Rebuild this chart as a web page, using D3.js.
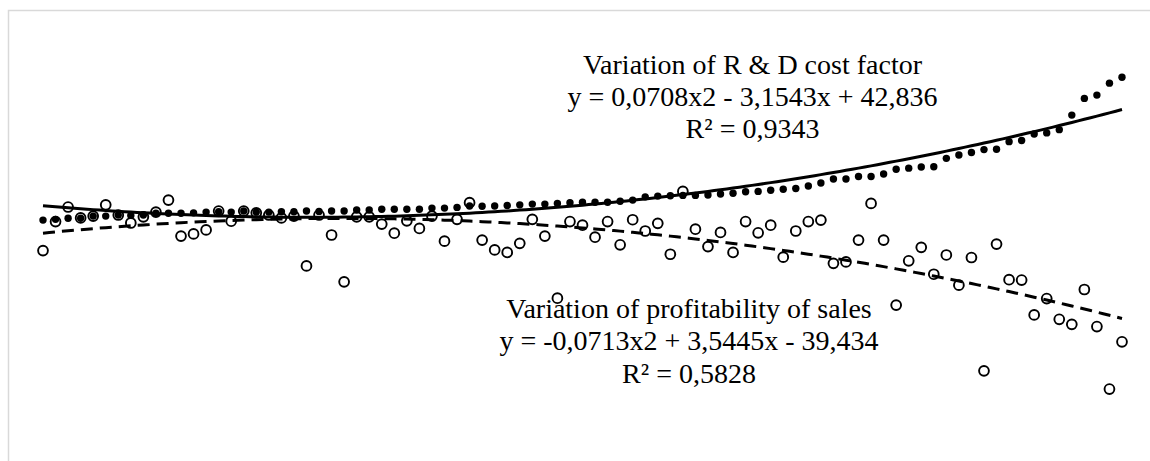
<!DOCTYPE html>
<html lang="en">

<head>
  <meta charset="UTF-8" />
  <title>R & D cost factor vs profitability of sales</title>
  <script src="https://d3js.org/d3.v7.min.js"></script>
  <style>
    body {
      margin: 0;
      background-color: white;
    }

    svg {
      display: block;
    }

    .label {
      font-family: "Liberation Serif", "Times New Roman", serif;
      font-size: 28px;
      fill: #000;
    }
  </style>
</head>

<body>
  <script>
    // observation number 1..87
    const periods = d3.range(1, 88);

    // variation of R & D cost factor (filled dots)
    const rdCost = [
      0, 2, 5, 5, 11, 11, 14, 13, 14, 19,
      19, 19, 20, 22, 23, 22, 25, 22, 22, 23,
      23, 25, 24, 25, 25, 28, 28, 30, 30, 30,
      30, 33, 33, 35, 39, 38, 39, 40, 42, 44,
      44, 46, 48, 49, 49, 49, 52, 55, 64, 66,
      67, 68, 68, 69, 72, 74, 78, 79, 82, 85,
      87, 94, 102, 113, 113, 120, 120, 127, 140, 143,
      146, 147, 170, 179, 186, 194, 195, 216, 219, 237,
      240, 249, 289, 335, 344, 377, 393
    ];

    // variation of profitability of sales (open circles)
    const profitability = [
      -84, -4, 36, 6, 11, 42, 14, -8, 9, 22,
      55, -44, -38, -27, 25, -3, 25, 20, 14, 6,
      11, -126, 14, -41, -170, 9, 9, -11, -36, -2,
      -23, 11, -58, 2, 48, -55, -82, -89, -64, 2,
      -44, -215, -4, -14, -47, -4, -68, 1, -30, -9,
      -94, 79, -25, -73, -34, -89, -4, -35, -14, -102,
      -30, -4, 0, -119, -115, -55, 46, -55, -234, -112,
      -75, -149, -96, -179, -103, -415, -66, -164, -165, -261,
      -216, -273, -287, -191, -293, -465, -335
    ];

    // polynomial trend line coefficients [a, b, c] for a*x^2 + b*x + c
    const rdTrend = [0.0708, -3.1543, 42.836];
    const profitTrend = [-0.0713, 3.5445, -39.434];

    const rdLabel = ['Variation of R & D cost factor', 'y = 0,0708x2 - 3,1543x + 42,836', 'R² = 0,9343'];
    const profitLabel = ['Variation of profitability of sales', 'y = -0,0713x2 + 3,5445x - 39,434', 'R² = 0,5828'];

    const w = 1150;
    const h = 461;

    const svg = d3.select('body')
      .append('svg')
      .attr('width', w)
      .attr('height', h);

    // chart frame (only top and left edges fall inside the picture)
    svg.append('rect')
      .attr('x', 8.5)
      .attr('y', 10.5)
      .attr('width', w + 20)
      .attr('height', h + 20)
      .attr('fill', 'white')
      .attr('stroke', '#d9d9d9')
      .attr('stroke-width', 1.5);

    const x = d3.scaleLinear()
      .domain([1, 87])
      .range([43, 1122]);

    // axes are hidden in the original
    const y = d3.scaleLinear()
      .domain([-500, 500])
      .range([401.75, 38.45]);

    const poly = (c) => (t) => c[0] * t * t + c[1] * t + c[2];
    const xs = d3.range(1, 87.01, 0.5);

    const line = d3.line()
      .x(d => x(d[0]))
      .y(d => y(d[1]));

    // R & D dots
    svg.append('g')
      .selectAll('circle')
      .data(periods)
      .enter()
      .append('circle')
      .attr('cx', d => x(d))
      .attr('cy', (d, i) => y(rdCost[i]))
      .attr('r', 3.7)
      .attr('fill', '#000');

    // profitability circles
    svg.append('g')
      .selectAll('circle')
      .data(periods)
      .enter()
      .append('circle')
      .attr('cx', d => x(d))
      .attr('cy', (d, i) => y(profitability[i]))
      .attr('r', 4.9)
      .attr('fill', 'none')
      .attr('stroke', '#000')
      .attr('stroke-width', 1.9);

    // trend lines
    const fRd = poly(rdTrend);
    svg.append('path')
      .datum(xs.map(t => [t, fRd(t)]))
      .attr('d', line)
      .attr('fill', 'none')
      .attr('stroke', '#000')
      .attr('stroke-width', 3);

    const fProfit = poly(profitTrend);
    svg.append('path')
      .datum(xs.map(t => [t, fProfit(t)]))
      .attr('d', line)
      .attr('fill', 'none')
      .attr('stroke', '#000')
      .attr('stroke-width', 3)
      .attr('stroke-dasharray', '12,7');

    // trend labels
    svg.append('g')
      .selectAll('text')
      .data(rdLabel)
      .enter()
      .append('text')
      .attr('class', 'label')
      .attr('x', 752.5)
      .attr('y', (d, i) => 74 + i * 32)
      .attr('text-anchor', 'middle')
      .text(d => d);

    svg.append('g')
      .selectAll('text')
      .data(profitLabel)
      .enter()
      .append('text')
      .attr('class', 'label')
      .attr('x', 689)
      .attr('y', (d, i) => 317.5 + i * 32.5)
      .attr('text-anchor', 'middle')
      .text(d => d);
  </script>
</body>

</html>
